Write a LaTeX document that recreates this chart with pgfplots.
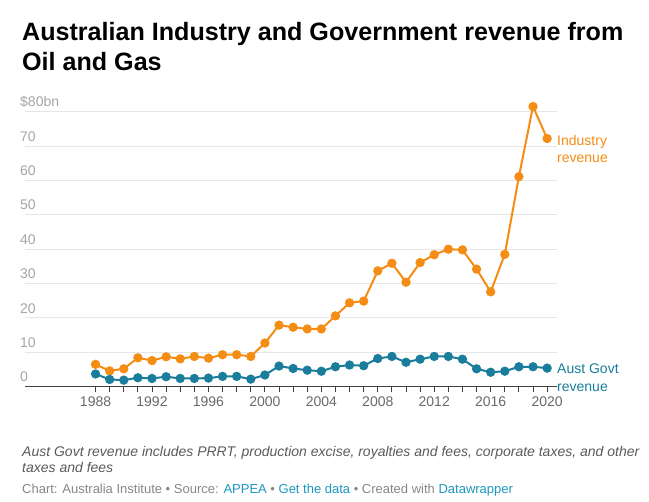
\documentclass[border=0pt]{standalone}
\usepackage{pgfplots}
\pgfplotsset{compat=1.18}
\usepackage{fontspec}
\setmainfont{Liberation Sans}
\definecolor{ind}{RGB}{245,140,20}
\definecolor{gov}{RGB}{25,125,155}
\definecolor{gridc}{RGB}{230,230,230}
\definecolor{ylab}{RGB}{165,165,165}
\definecolor{xlab}{RGB}{105,105,105}
\definecolor{note}{RGB}{90,90,90}
\definecolor{cred}{RGB}{135,135,135}
\definecolor{link}{RGB}{30,150,190}
\begin{document}
\begin{tikzpicture}
\useasboundingbox (0,0) rectangle (649pt,502pt);
\begin{axis}[at={(25pt,115.3pt)}, anchor=south west, scale only axis,
 width=532pt, height=275pt,
 xmin=1983, xmax=2020.7, ymin=0, ymax=80,
 axis x line*=bottom, axis y line*=left,
 y axis line style={draw=none},
 x axis line style={draw=black!75, line width=1.2pt},
 ytick={0,10,...,80}, yticklabels={0,10,20,30,40,50,60,70,\$80bn},
 ytick style={draw=none},
 yticklabel style={anchor=south west, inner sep=0pt, yshift=4.5pt, font=\fontsize{14}{14}\selectfont, text=ylab},
 ymajorgrids, grid style={gridc, line width=0.9pt},
 xtick={1988,1992,...,2020},
 minor xtick={1989,...,2019},
 /pgf/number format/1000 sep={}, /pgf/number format/assume math mode=true,
 xticklabel style={font=\fontsize{14}{14}\selectfont, text=xlab, yshift=-2pt},
 tick align=outside, major tick length=5pt, minor tick length=5pt,
 every tick/.style={draw=black!75, line width=0.9pt},
 clip=false,
]
\addplot[ind, line width=2pt, mark=*, mark size=3.6pt] coordinates {
(1988,6.5)(1989,4.6)(1990,5.2)(1991,8.4)(1992,7.6)(1993,8.7)(1994,8.1)(1995,8.8)
(1996,8.3)(1997,9.3)(1998,9.3)(1999,8.8)(2000,12.7)(2001,17.9)(2002,17.3)(2003,16.8)
(2004,16.8)(2005,20.6)(2006,24.4)(2007,24.9)(2008,33.7)(2009,35.9)(2010,30.4)(2011,36.1)
(2012,38.4)(2013,40.0)(2014,39.8)(2015,34.2)(2016,27.6)(2017,38.5)(2018,61.1)(2019,81.5)
(2020,72.2)};
\addplot[gov, line width=2pt, mark=*, mark size=3.6pt] coordinates {
(1988,3.7)(1989,2.1)(1990,1.9)(1991,2.6)(1992,2.4)(1993,2.9)(1994,2.4)(1995,2.4)
(1996,2.5)(1997,3.0)(1998,3.0)(1999,2.2)(2000,3.4)(2001,6.0)(2002,5.3)(2003,4.8)
(2004,4.5)(2005,5.8)(2006,6.3)(2007,6.1)(2008,8.2)(2009,8.8)(2010,7.1)(2011,8.0)
(2012,8.8)(2013,8.8)(2014,8.0)(2015,5.2)(2016,4.2)(2017,4.5)(2018,5.8)(2019,5.8)
(2020,5.4)};
\end{axis}
% title
\node[anchor=base west, inner sep=0pt, font=\fontsize{25.1}{30}\selectfont\bfseries] at (22pt,461pt) {Australian Industry and Government revenue from};
\node[anchor=base west, inner sep=0pt, font=\fontsize{25.1}{30}\selectfont\bfseries] at (22pt,431pt) {Oil and Gas};
% series labels
\node[anchor=west, inner sep=0pt, align=left, text=ind, font=\fontsize{14}{17}\selectfont] at (557pt,352.5pt) {Industry\\revenue};
\node[anchor=west, inner sep=0pt, align=left, text=gov, font=\fontsize{14}{18}\selectfont] at (557pt,124.5pt) {Aust Govt\\revenue};
% footer
\node[anchor=base west, inner sep=0pt, text=note, font=\fontsize{14}{16}\selectfont\itshape] at (22pt,45pt) {Aust Govt revenue includes PRRT, production excise, royalties and fees, corporate taxes, and other};
\node[anchor=base west, inner sep=0pt, text=note, font=\fontsize{14}{16}\selectfont\itshape] at (22pt,29pt) {taxes and fees};
\node[anchor=base west, inner sep=0pt, text=cred, font=\fontsize{13}{14}\selectfont] at (22pt,8pt) {Chart: Australia Institute \textbullet{} Source: \textcolor{link}{APPEA} \textbullet{} \textcolor{link}{Get the data} \textbullet{} Created with \textcolor{link}{Datawrapper}};
\end{tikzpicture}
\end{document}
